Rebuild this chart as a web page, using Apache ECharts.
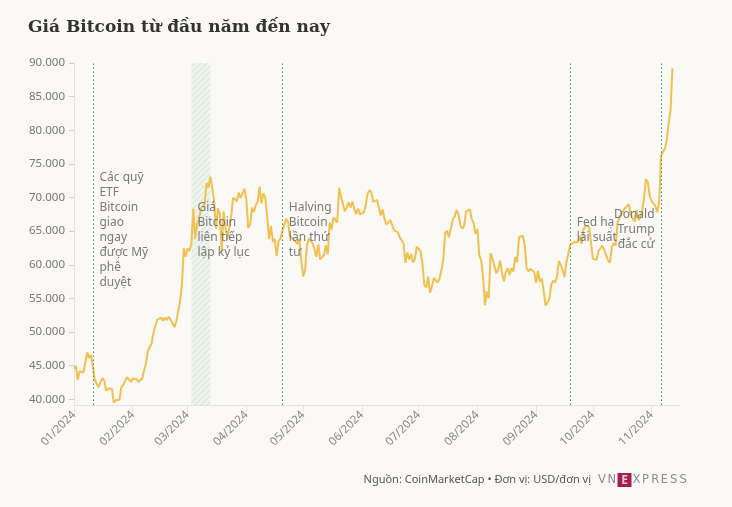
<!DOCTYPE html>
<html><head><meta charset="utf-8">
<script src="https://cdn.jsdelivr.net/npm/echarts@6/dist/echarts.min.js"></script>
<style>html,body{margin:0;padding:0;background:#faf9f5;}#c{width:732px;height:507px;}</style>
</head><body><div id="c"></div>
<script>
// ---- DATA ----
const startDate = '2024-01-01';
const jan = [44600,44958,42848,44179,44162,43989,43943,46970,46139,46628,46368,42853,42842,41796,42511,43154,42742,41262,41618,41665,41545,39507,39845,40077,39933,41816,42120,42035,43288,42952,42582];
const feb = [43075,43185,42992,42583,42658,43084,44318,45301,47147,47771,48293,49958,49742,51826,51938,52160,51663,52122,51779,52284,51839,51304,50731,51571,51733,54522,57085,62504,61198];
const mar = [62440,62029,63167,68330,63801,66106,66925,68300,68498,69019,72123,71481,73083,71397,69403,65316,68390,67548,61912,67913,65491,63779,64062,67234,69958,69987,69455,70744,69892,69645,71333];
const apr = [69702,65446,65980,68508,67837,68896,69362,71632,69139,70587,70060,67195,63821,65738,63426,63811,61276,63512,63843,64994,64926,66837,66407,64276,64482,63756,63419,63113,63841,60636];
const may = [58254,59123,62889,63891,64031,63161,62334,61187,63049,60792,60793,61448,62901,61553,66267,65231,67051,66940,66278,71448,70136,69122,67929,68526,69265,68518,69394,68296,67578,68364,67491];
const jun = [67706,67751,68804,70567,71082,70757,69342,69305,69648,69512,67332,68242,66757,66012,66191,66639,66490,65140,64960,64829,64096,64252,63180,60277,61804,60811,61604,60320,60887,62678];
const jul = [62851,62029,60173,56977,56663,58231,55857,56714,58052,57725,57339,57889,59204,60797,64724,65043,64087,63987,66661,67139,68165,67532,65936,65372,65777,67913,67813,68255,66819,66201,64619];
const aug = [65357,61415,60681,58116,53991,56034,55027,61710,60880,60945,58719,59354,60609,58737,57560,58894,59478,58483,59493,59012,61175,60381,64094,64178,64333,62880,59504,59027,59389,59119,58969];
const sep = [57326,59113,57485,57971,56160,53949,54140,54842,57020,57649,57343,58127,60571,60005,59183,58192,60309,61649,62940,63192,63395,63579,63339,64262,63143,65181,65791,65888,65635,63329];
const oct = [60838,60632,60759,62068,62089,62819,62224,62160,60637,60327,62540,63207,62870,66083,67122,67612,67400,68418,68362,69002,67368,67362,66432,68161,66642,67014,67929,69907,72720,72339,70215];
const nov = [69482,69289,68742,67811,69359,76200,76800,77300,78500,81000,83000,89200];

const yTicks = [40000,45000,50000,55000,60000,65000,70000,75000,80000,85000,90000];
const monthStarts = ['2024-01-01','2024-02-01','2024-03-01','2024-04-01','2024-05-01','2024-06-01','2024-07-01','2024-08-01','2024-09-01','2024-10-01','2024-11-01'];
const tickLabels = ['01/2024','02/2024','03/2024','04/2024','05/2024','06/2024','07/2024','08/2024','09/2024','10/2024','11/2024'];
const eventDates = ['2024-01-11','2024-04-20','2024-09-19','2024-11-06'];
const bandDates = ['2024-03-03','2024-03-13'];
const annotationTexts = [
  'Các quỹ\nETF\nBitcoin\ngiao\nngay\nđược Mỹ\nphê\nduyệt',
  'Giá\nBitcoin\nliên tiếp\nlập kỷ lục',
  'Halving\nBitcoin\nlần thứ\ntư',
  'Fed hạ\nlãi suất',
  'Donald\nTrump\nđắc cử'
];
const titleText = 'Giá Bitcoin từ đầu năm đến nay';
const sourceText = 'Nguồn: CoinMarketCap • Đơn vị: USD/đơn vị';

// ---- BUILD ----
const ts = d => { const [y,m,dd] = d.split('-').map(Number); return Date.UTC(y, m-1, dd); };
const DAY = 86400000;
const allValues = [].concat(jan, feb, mar, apr, may, jun, jul, aug, sep, oct, nov);
const seriesData = allValues.map((v, i) => [ts(startDate) + i*DAY, v]);
const monthTs = monthStarts.map(ts);

// hatch pattern for band
const pat = document.createElement('canvas');
pat.width = 6; pat.height = 6;
const pc = pat.getContext('2d');
pc.fillStyle = '#eff4ed'; pc.fillRect(0,0,6,6);
pc.strokeStyle = '#d9e8da'; pc.lineWidth = 1.2;
pc.beginPath(); pc.moveTo(0,6); pc.lineTo(6,0); pc.moveTo(-3,3); pc.lineTo(3,-3); pc.moveTo(3,9); pc.lineTo(9,3); pc.stroke();

const axisGray = '#e3e3e3';
const labelGray = '#777';
const font = "'Noto Sans', sans-serif";

const chart = echarts.init(document.getElementById('c'), null, {renderer:'canvas'});
chart.setOption({
  backgroundColor: '#faf9f5',
  animation: false,
  title: {
    text: titleText, left: 28, top: 19, padding: 0,
    textStyle: {fontFamily: "'DejaVu Serif', serif", fontWeight: 'bold', fontSize: 17, color: '#333'}
  },
  grid: {left: 74, right: 52, top: 63, bottom: 102, containLabel: false},
  xAxis: {
    type: 'value',
    min: ts('2024-01-01'), max: ts('2024-11-16'),
    axisLine: {show: true, lineStyle: {color: axisGray, width: 1}},
    axisTick: {show: true, length: 7, lineStyle: {color: axisGray}, customValues: monthTs},
    axisLabel: {
      customValues: monthTs, rotate: 45, margin: 8, color: '#888', fontSize: 11.5, fontFamily: font,
      formatter: v => { const i = monthTs.indexOf(v); return i >= 0 ? tickLabels[i] : ''; }
    },
    splitLine: {show: false}
  },
  yAxis: {
    type: 'value', min: 39150, max: 90000,
    axisLine: {show: true, lineStyle: {color: axisGray, width: 1}},
    axisTick: {show: true, length: 5, lineStyle: {color: '#cfcfcf'}, customValues: yTicks},
    axisLabel: {
      customValues: yTicks, margin: 9, color: labelGray, fontSize: 11.5, fontFamily: font,
      formatter: v => String(v).replace(/\B(?=(\d{3})+(?!\d))/g, '.')
    },
    splitLine: {show: false}
  },
  series: [{
    type: 'line', data: seriesData, showSymbol: false, symbol: 'none',
    lineStyle: {color: '#f1c04f', width: 2}, itemStyle: {color: '#f1c04f'},
    z: 3,
    markLine: {
      silent: true, symbol: ['none','none'], label: {show: false},
      lineStyle: {type: [1.5, 2.5], color: '#3a9a64', width: 1.1},
      data: eventDates.map(d => ({xAxis: ts(d)}))
    },
    markArea: {
      silent: true,
      itemStyle: {color: {image: pat, repeat: 'repeat'}},
      data: [[{xAxis: ts(bandDates[0])}, {xAxis: ts(bandDates[1])}]]
    }
  }]
});

// annotations placed through the axes' own scales
const toX = d => chart.convertToPixel({xAxisIndex: 0}, ts(d));
const layout = [
  {x: toX(eventDates[0]) + 6.5, y: 170, align: 'left'},
  {x: toX(bandDates[0]) + 6, y: 200, align: 'left'},
  {x: toX(eventDates[1]) + 6.5, y: 200.5, align: 'left'},
  {x: toX(eventDates[2]) + 6.5, y: 215.5, align: 'left'},
  {x: toX(eventDates[3]) - 6.5, y: 207.5, align: 'right'}
];
const graphics = annotationTexts.map((t, i) => ({
  type: 'text', x: layout[i].x, y: layout[i].y, z: 10,
  style: {text: t, fill: '#7a7a7a', fontSize: 12, fontFamily: font, lineHeight: 15,
          align: layout[i].align, verticalAlign: 'top'}
}));
// footer
graphics.push({type: 'text', x: 591, y: 480, style: {text: sourceText, fill: '#555', fontSize: 11, fontFamily: font, align: 'right', verticalAlign: 'middle'}});
const logoLeft = 'VN', logoRight = 'XPRESS';
const logoFont = "'DejaVu Sans', sans-serif";
logoLeft.split('').forEach((ch, i) => graphics.push({type: 'text', x: 598 + i*9.6, y: 480.5, style: {text: ch, fill: '#8c8c8c', fontSize: 11.5, fontFamily: logoFont, align: 'left', verticalAlign: 'middle'}}));
graphics.push({type: 'rect', shape: {x: 617.5, y: 473, width: 14, height: 14}, style: {fill: '#9f224e'}});
graphics.push({type: 'text', x: 624.5, y: 480.5, style: {text: 'E', fill: '#f2c3d4', fontSize: 12, fontWeight: 'bold', fontFamily: font, align: 'center', verticalAlign: 'middle'}});
logoRight.split('').forEach((ch, i) => graphics.push({type: 'text', x: 632.5 + i*9.4, y: 480.5, style: {text: ch, fill: '#8c8c8c', fontSize: 11.5, fontFamily: logoFont, align: 'left', verticalAlign: 'middle'}}));
chart.setOption({graphic: graphics});
</script>
</body></html>
